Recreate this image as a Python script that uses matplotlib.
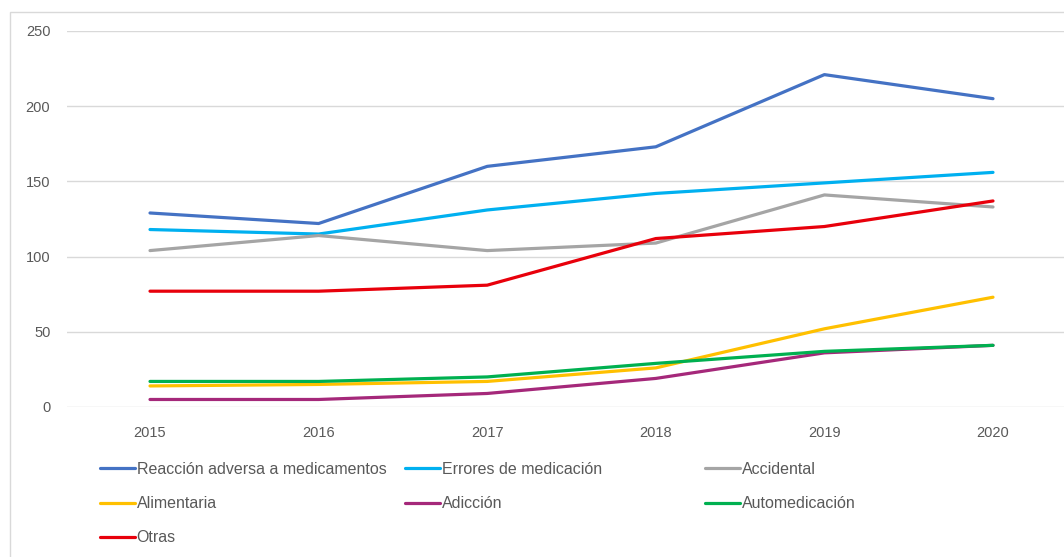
import matplotlib
matplotlib.use("Agg")
import matplotlib.pyplot as plt
from matplotlib.patches import Rectangle

plt.rcParams['font.family'] = ['Liberation Sans', 'DejaVu Sans']

years = [2015, 2016, 2017, 2018, 2019, 2020]

reaccion = [129, 122, 160, 173, 221, 205]
errores = [118, 115, 131, 142, 149, 156]
accidental = [104, 114, 104, 109, 141, 133]
alimentaria = [14, 15, 17, 26, 52, 73]
adiccion = [5, 5, 9, 19, 36, 41]
automedicacion = [17, 17, 20, 29, 37, 41]
otras = [77, 77, 81, 112, 120, 137]

labels = ["Reacción adversa a medicamentos", "Errores de medicación", "Accidental",
          "Alimentaria", "Adicción", "Automedicación", "Otras"]
series = [reaccion, errores, accidental, alimentaria, adiccion, automedicacion, otras]
colors = ["#4472C4", "#00B0F0", "#A5A5A5", "#FFC000", "#A5287A", "#00B050", "#E8000B"]
y_ticks = [0, 50, 100, 150, 200, 250]

W, H = 1064, 557
fig = plt.figure(figsize=(W / 100, H / 100), dpi=100)

# chart border (cropped at right and bottom)
fig.add_artist(Rectangle((10 / W, -0.01), 1.1, (H - 12) / H + 0.01,
                         transform=fig.transFigure, fill=False,
                         edgecolor="#D9D9D9", linewidth=1.0))

left_px, right_px = 67, 1064
bottom_px, top_px = 407, 31
ax = fig.add_axes([left_px / W, (H - bottom_px) / H,
                   (right_px - left_px) / W, (bottom_px - top_px) / H])

step = (993 - 150) / 5
ax.set_xlim(2015 - (150 - left_px) / step, 2020 + (right_px - 993) / step)
ax.set_ylim(0, 250)

handles = []
for vals, lab, col in zip(series, labels, colors):
    (ln,) = ax.plot(years, vals, color=col, linewidth=2.3, label=lab,
                    solid_capstyle="round", clip_on=False, zorder=3)
    handles.append(ln)

ax.set_yticks(y_ticks)
ax.set_xticks(years)
ax.grid(axis="y", color="#D9D9D9", linewidth=1.0)
ax.set_axisbelow(True)
for s in ax.spines.values():
    s.set_visible(False)
ax.tick_params(axis="both", length=0, labelsize=10.5, labelcolor="#595959")
ax.tick_params(axis="y", pad=12)
ax.tick_params(axis="x", pad=14)

# legend in three columns
cols = [([0, 3, 6], 100), ([1, 4], 405), ([2, 5], 705)]
for idx, xpx in cols:
    leg = fig.legend([handles[i] for i in idx], [labels[i] for i in idx],
                     loc="upper left", bbox_to_anchor=(xpx / W, (H - 462) / H),
                     frameon=False, fontsize=11.5, handlelength=2.2,
                     handletextpad=0.1, labelspacing=1.2, borderpad=0,
                     borderaxespad=0)
    for t in leg.get_texts():
        t.set_color("#595959")

fig.savefig("out.png", dpi=100)
